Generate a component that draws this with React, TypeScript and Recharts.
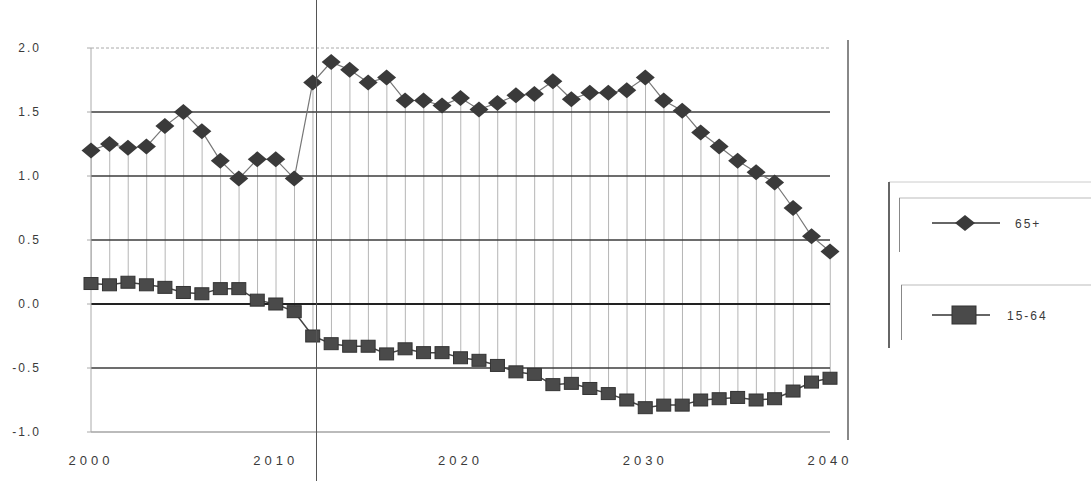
import React from "react";
import { Bar, ComposedChart, Line, ReferenceLine, XAxis, YAxis } from "recharts";

const years = [
  2000, 2001, 2002, 2003, 2004, 2005, 2006, 2007, 2008, 2009,
  2010, 2011, 2012, 2013, 2014, 2015, 2016, 2017, 2018, 2019,
  2020, 2021, 2022, 2023, 2024, 2025, 2026, 2027, 2028, 2029,
  2030, 2031, 2032, 2033, 2034, 2035, 2036, 2037, 2038, 2039, 2040,
];

const aged65Plus = [
  1.2, 1.25, 1.22, 1.23, 1.39, 1.5, 1.35, 1.12, 0.98, 1.13,
  1.13, 0.98, 1.73, 1.89, 1.83, 1.73, 1.77, 1.59, 1.59, 1.55,
  1.61, 1.52, 1.57, 1.63, 1.64, 1.74, 1.6, 1.65, 1.65, 1.67,
  1.77, 1.59, 1.51, 1.34, 1.23, 1.12, 1.03, 0.95, 0.75, 0.53, 0.41,
];

const aged15to64 = [
  0.16, 0.15, 0.17, 0.15, 0.13, 0.09, 0.08, 0.12, 0.12, 0.03,
  0.0, -0.06, -0.25, -0.31, -0.33, -0.33, -0.39, -0.35, -0.38, -0.38,
  -0.42, -0.44, -0.48, -0.53, -0.55, -0.63, -0.62, -0.66, -0.7, -0.75,
  -0.81, -0.79, -0.79, -0.75, -0.74, -0.73, -0.75, -0.74, -0.68, -0.61, -0.58,
];

const yearTicks = [2000, 2010, 2020, 2030, 2040];
const valueTicks = [-1, -0.5, 0, 0.5, 1, 1.5, 2];
const darkGrid = [1.5, 1, 0.5, -0.5];

const data = years.map((year, i) => ({
  year,
  old: aged65Plus[i],
  work: aged15to64[i],
  span: [aged15to64[i], aged65Plus[i]],
}));

const font = "'Liberation Sans', Arial, sans-serif";

const Diamond = (props: any) => {
  const { cx, cy, index } = props;
  if (cx == null || cy == null) return null;
  return (
    <path
      key={`dia-${index}`}
      d={`M${cx},${cy - 8} L${cx + 9.5},${cy} L${cx},${cy + 8} L${cx - 9.5},${cy} Z`}
      fill="#3a3a3a"
    />
  );
};

const Square = (props: any) => {
  const { cx, cy, index } = props;
  if (cx == null || cy == null) return null;
  return (
    <rect
      key={`sq-${index}`}
      x={cx - 7}
      y={cy - 6}
      width={14}
      height={12}
      fill="#4a4a4a"
      stroke="#333"
      strokeWidth={1}
    />
  );
};

function LegendBox() {
  return (
    <svg
      width={203}
      height={170}
      style={{ position: "absolute", left: 888, top: 180 }}
    >
      <line x1={1} y1={2} x2={203} y2={2} stroke="#ccc" />
      <line x1={1} y1={2} x2={1} y2={168} stroke="#666" strokeWidth={2} />
      <line x1={11} y1={18} x2={203} y2={18} stroke="#bbb" />
      <line x1={11.5} y1={18} x2={11.5} y2={72} stroke="#888" />
      <line x1={13} y1={105} x2={203} y2={105} stroke="#bbb" />
      <line x1={13.5} y1={105} x2={13.5} y2={160} stroke="#888" />

      <line x1={44} y1={43} x2={112} y2={43} stroke="#333" strokeWidth={1.5} />
      <path d="M77,35 L87,43 L77,51 L67,43 Z" fill="#3a3a3a" />
      <text
        x={127}
        y={47.5}
        fontFamily={font}
        fontSize={12}
        letterSpacing={2}
        fill="#3a3a3a"
      >
        65+
      </text>

      <line x1={44} y1={135} x2={102} y2={135} stroke="#333" strokeWidth={1.5} />
      <rect x={64} y={126} width={24} height={18} fill="#4a4a4a" stroke="#333" />
      <text
        x={119}
        y={139.5}
        fontFamily={font}
        fontSize={12}
        letterSpacing={2}
        fill="#3a3a3a"
      >
        15-64
      </text>
    </svg>
  );
}

export default function App() {
  return (
    <div
      style={{
        position: "absolute",
        left: 0,
        top: 0,
        width: 1091,
        height: 481,
        background: "#fff",
        overflow: "hidden",
      }}
    >
      <ComposedChart
        width={1091}
        height={481}
        data={data}
        margin={{ top: 48, right: 261, bottom: 19, left: 11 }}
      >
        <XAxis
          dataKey="year"
          type="number"
          domain={[2000, 2040]}
          ticks={yearTicks}
          height={30}
          axisLine={false}
          tickLine={false}
          tickSize={0}
          tickMargin={24}
          tick={{ fontSize: 13, fill: "#3a3a3a", fontFamily: font, letterSpacing: 4 }}
        />
        <YAxis
          type="number"
          domain={[-1, 2]}
          ticks={valueTicks}
          width={80}
          axisLine={{ stroke: "#aaa" }}
          tickLine={{ stroke: "#aaa" }}
          tickSize={4}
          tickMargin={46}
          tickFormatter={(v: number) => v.toFixed(1)}
          tick={{ fontSize: 12, fill: "#3a3a3a", fontFamily: font, letterSpacing: 2 }}
        />

        <ReferenceLine y={2} stroke="#aaa" strokeDasharray="3 2" />
        <ReferenceLine y={-1} stroke="#bbb" strokeWidth={2} />
        {darkGrid.map((v) => (
          <ReferenceLine key={v} y={v} stroke="#3c3c3c" strokeWidth={1.5} />
        ))}
        <ReferenceLine y={0} stroke="#222" strokeWidth={2} />

        <Bar
          dataKey="span"
          barSize={1}
          fill="#b5b5b5"
          isAnimationActive={false}
        />
        <Line
          dataKey="old"
          stroke="#777"
          strokeWidth={1.2}
          dot={<Diamond />}
          activeDot={false}
          isAnimationActive={false}
        />
        <Line
          dataKey="work"
          stroke="#444"
          strokeWidth={1.5}
          dot={<Square />}
          activeDot={false}
          isAnimationActive={false}
        />
      </ComposedChart>

      <div
        style={{
          position: "absolute",
          left: 847,
          top: 40,
          width: 1.5,
          height: 400,
          background: "#888",
        }}
      />
      <div
        style={{
          position: "absolute",
          left: 316,
          top: 0,
          width: 1,
          height: 481,
          background: "#555",
        }}
      />
      <LegendBox />
    </div>
  );
}
